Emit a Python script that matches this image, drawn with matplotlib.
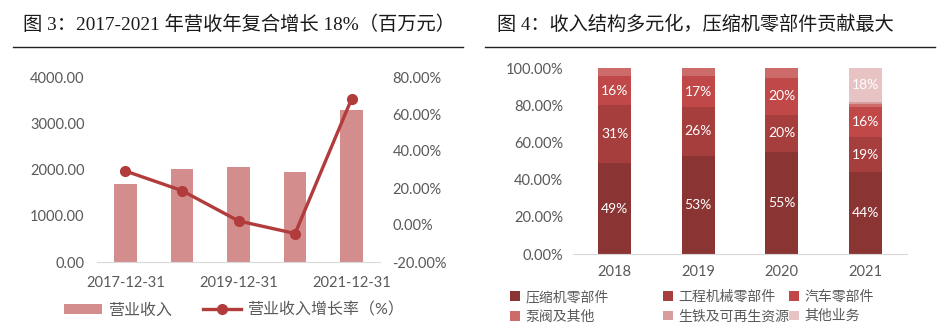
import matplotlib.pyplot as plt
from matplotlib.lines import Line2D
import numpy as np

plt.rcParams['font.family'] = ['Lato', 'Noto Sans CJK SC', 'DejaVu Sans']
plt.rcParams['axes.unicode_minus'] = False

TICK_COLOR = '#595959'
AXIS_COLOR = '#D9D9D9'
TITLE_FONT = ['Liberation Serif', 'Noto Sans CJK SC']

# ---- data: figure 3 ----
dates = ['2017-12-31', '2018-12-31', '2019-12-31', '2020-12-31', '2021-12-31']
revenue = [1690, 2004, 2047, 1953, 3286]          # 百万元
growth = [29.2, 18.6, 2.2, -4.6, 68.3]             # %

# ---- data: figure 4 ----
years = ['2018', '2019', '2020', '2021']
segments = ['压缩机零部件', '工程机械零部件', '汽车零部件',
            '泵阀及其他', '生铁及可再生资源', '其他业务']
shares = {
    '压缩机零部件':     [49, 53, 55, 44],
    '工程机械零部件':   [31, 26, 20, 19],
    '汽车零部件':       [16, 17, 20, 16],
    '泵阀及其他':       [4, 4, 5, 2],
    '生铁及可再生资源': [0, 0, 0, 1],
    '其他业务':         [0, 0, 0, 18],
}
seg_colors = ['#8B3434', '#A73E3E', '#C04848', '#CD6A6A', '#D99C9C', '#E8C3C3']
label_segments = ['压缩机零部件', '工程机械零部件', '汽车零部件', '其他业务']

fig = plt.figure(figsize=(9.42, 3.3), dpi=100)
fig.patch.set_facecolor('white')

# ---- titles with underline ----
fig.text(23 / 942, 1 - 25 / 330, '图 3：2017-2021 年营收年复合增长 18%（百万元）',
         family=TITLE_FONT, fontsize=13.9, color='#1a1a1a', va='center', ha='left')
fig.text(497 / 942, 1 - 25 / 330, '图 4：收入结构多元化，压缩机零部件贡献最大',
         family=TITLE_FONT, fontsize=13.8, color='#1a1a1a', va='center', ha='left')
fig.add_artist(Line2D([13 / 942, 463 / 942], [1 - 47 / 330] * 2, color='#222222', lw=1.0))
fig.add_artist(Line2D([485 / 942, 935 / 942], [1 - 47 / 330] * 2, color='#222222', lw=1.0))

# ==========================================
# Figure 3: revenue bars + growth line
# ==========================================
ax = fig.add_axes([97 / 942, 1 - 262 / 330, 283 / 942, 185 / 330])
x = np.arange(len(dates))
ax.bar(x, revenue, width=0.4, color='#D38D8D', zorder=2, label='营业收入')
ax.set_xlim(-0.5, len(dates) - 0.5)
ax.set_ylim(0, 4000)
ax.set_yticks(np.arange(0, 4001, 1000))
ax.set_yticklabels([f'{v:.2f}' for v in np.arange(0, 4001, 1000)])
ax.set_xticks(x[::2])
ax.set_xticklabels(dates[::2])
ax.tick_params(axis='y', length=0, pad=9, labelsize=10.5, colors=TICK_COLOR)
ax.tick_params(axis='x', length=0, pad=10, labelsize=10.5, colors=TICK_COLOR)
for s in ['top', 'right', 'left']:
    ax.spines[s].set_visible(False)
ax.spines['bottom'].set_color(AXIS_COLOR)

ax2 = ax.twinx()
ax2.plot(x, growth, color='#B23B3B', lw=2.4, marker='o', markersize=7,
         zorder=3, label='营业收入增长率（%）')
ax2.set_ylim(-20, 80)
ax2.set_yticks(np.arange(-20, 81, 20))
ax2.set_yticklabels([f'{v:.2f}%' for v in np.arange(-20, 81, 20)])
ax2.tick_params(axis='y', length=0, pad=9, labelsize=10.5, colors=TICK_COLOR)
for s in ax2.spines.values():
    s.set_visible(False)

h1, l1 = ax.get_legend_handles_labels()
h2, l2 = ax2.get_legend_handles_labels()
fig.legend(h1 + h2, l1 + l2, loc='center', bbox_to_anchor=(234 / 942, 1 - 310 / 330),
           ncol=2, frameon=False, fontsize=11.5, labelcolor=TICK_COLOR,
           handlelength=2.4, handleheight=0.6, handletextpad=0.4, columnspacing=1.9)

# ==========================================
# Figure 4: revenue structure (stacked %)
# ==========================================
bx = fig.add_axes([573 / 942, 1 - 254 / 330, 334 / 942, 185.7 / 330])
xb = np.arange(len(years))
bottom = np.zeros(len(years))
handles = []
for seg, col in zip(segments, seg_colors):
    vals = np.array(shares[seg], dtype=float)
    bars = bx.bar(xb, vals, width=0.4, bottom=bottom, color=col, zorder=2,
                  edgecolor='none', label=seg)
    handles.append(bars)
    if seg in label_segments:
        for xi, v, b in zip(xb, vals, bottom):
            if v >= 10:
                bx.text(xi, b + v / 2, f'{v:.0f}%', ha='center', va='center',
                        color='white', fontsize=10)
    bottom += vals
bx.set_xlim(-0.5, len(years) - 0.5)
bx.set_ylim(0, 100)
bx.set_yticks(np.arange(0, 101, 20))
bx.set_yticklabels([f'{v:.2f}%' for v in np.arange(0, 101, 20)])
bx.set_xticks(xb)
bx.set_xticklabels(years)
bx.tick_params(axis='y', length=0, pad=7, labelsize=10.5, colors=TICK_COLOR)
bx.tick_params(axis='x', length=0, pad=8, labelsize=10.5, colors=TICK_COLOR)
for s in ['top', 'right', 'left']:
    bx.spines[s].set_visible(False)
bx.spines['bottom'].set_color(AXIS_COLOR)

# legend: three columns, two rows
col_x = [510, 663, 789]
for ci, cx in enumerate(col_x):
    idx = [ci, ci + 3]
    fig.legend([handles[i] for i in idx], [segments[i] for i in idx],
               loc='center left', bbox_to_anchor=(cx / 942, 1 - 306 / 330),
               frameon=False, fontsize=10, labelcolor=TICK_COLOR,
               handlelength=0.7, handleheight=0.7, handletextpad=0.4,
               labelspacing=0.45, borderaxespad=0, borderpad=0)

plt.savefig('out.png', dpi=100, facecolor='white')
plt.close()
